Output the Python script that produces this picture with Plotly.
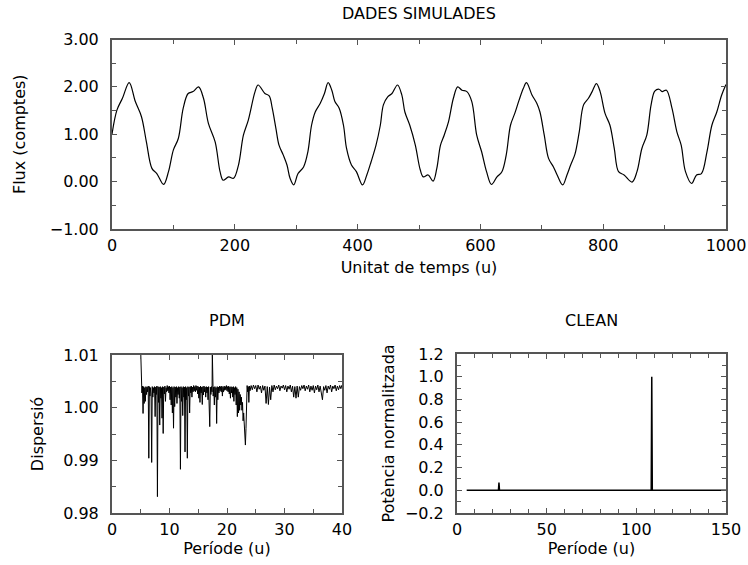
import plotly.graph_objects as go

# ---------------- data ----------------
# Simulated light curve
time_u = [0, 8, 17, 28, 38, 48, 56, 65, 73, 84, 92, 100, 108, 116, 124, 132, 141, 149, 157, 168,
          176, 181, 190, 198, 206, 214, 222, 233, 238, 249, 256, 261, 267, 272, 279, 285, 290, 296,
          303, 312, 319, 325, 331, 339, 346, 352, 358, 363, 370, 377, 382, 390, 398, 408, 415, 422,
          430, 437, 442, 449, 456, 465, 472, 477, 485, 494, 502, 507, 515, 523, 529, 535, 541, 548,
          556, 563, 570, 578, 586, 594, 602, 610, 618, 627, 635, 642, 649, 656, 663, 670, 675, 684,
          692, 697, 704, 711, 719, 725, 734, 741, 747, 754, 761, 768, 776, 782, 789, 795, 803, 811,
          818, 825, 834, 847, 855, 863, 871, 878, 884, 891, 896, 903, 912, 920, 927, 934, 944, 952,
          960, 969, 977, 985, 993, 1000]
flux = [1.00, 1.51, 1.76, 2.09, 1.69, 1.37, 0.84, 0.28, 0.17, -0.06, 0.21, 0.67, 0.91, 1.55, 1.86,
        1.90, 2.00, 1.76, 1.23, 0.84, 0.21, 0.03, 0.10, 0.07, 0.35, 0.98, 1.30, 1.90, 2.04, 1.86,
        1.81, 1.55, 1.12, 0.77, 0.56, 0.35, 0.07, -0.07, 0.17, 0.31, 0.63, 1.19, 1.47, 1.65, 1.86,
        2.09, 1.93, 1.69, 1.55, 1.19, 0.70, 0.35, 0.21, -0.07, 0.14, 0.42, 0.77, 1.19, 1.62, 1.79,
        1.86, 2.04, 1.83, 1.47, 1.19, 0.77, 0.25, 0.10, 0.14, 0.01, 0.28, 0.77, 0.98, 1.26, 1.76,
        2.00, 1.93, 1.90, 1.69, 0.98, 0.63, 0.21, -0.06, 0.10, 0.21, 0.56, 1.19, 1.44, 1.72, 1.97,
        2.09, 1.83, 1.65, 1.47, 0.98, 0.49, 0.31, 0.14, -0.07, 0.14, 0.35, 0.58, 1.05, 1.62, 1.76,
        1.90, 2.07, 1.90, 1.44, 1.19, 0.70, 0.21, 0.14, -0.01, 0.21, 0.70, 0.98, 1.62, 1.91, 1.95,
        1.90, 1.93, 1.55, 1.05, 0.77, 0.21, -0.04, 0.14, 0.17, 0.63, 1.19, 1.47, 1.83, 2.05]

# PDM periodogram
pdm_period = [
    5.0, 5.1, 5.2, 5.3, 5.4, 5.5, 5.6, 5.7, 5.8, 5.9, 6.0, 6.1, 6.2, 6.3, 6.4, 6.5, 6.6, 6.7, 6.8, 6.9,
    7.0, 7.1, 7.2, 7.3, 7.4, 7.5, 7.6, 7.7, 7.8, 7.9, 8.0, 8.1, 8.2, 8.3, 8.4, 8.5, 8.6, 8.7, 8.8, 8.9,
    9.0, 9.1, 9.2, 9.3, 9.4, 9.5, 9.6, 9.7, 9.8, 9.9, 10.0, 10.1, 10.2, 10.3, 10.4, 10.5, 10.6, 10.7,
    10.8, 10.9, 11.0, 11.1, 11.2, 11.3, 11.4, 11.5, 11.6, 11.7, 11.8, 11.9, 12.0, 12.1, 12.2, 12.3,
    12.4, 12.5, 12.6, 12.7, 12.8, 12.9, 13.0, 13.1, 13.2, 13.3, 13.4, 13.5, 13.6, 13.7, 13.8, 13.9,
    14.0, 14.1, 14.2, 14.3, 14.4, 14.5, 14.6, 14.7, 14.8, 14.9, 15.0, 15.1, 15.2, 15.3, 15.4, 15.5,
    15.6, 15.7, 15.8, 15.9, 16.0, 16.1, 16.2, 16.3, 16.4, 16.5, 16.6, 16.7, 16.8, 16.9, 17.0, 17.1,
    17.2, 17.3, 17.4, 17.45, 17.5, 17.6, 17.7, 17.8, 17.9, 18.0, 18.1, 18.2, 18.3, 18.4, 18.5, 18.6,
    18.7, 18.8, 18.9, 19.0, 19.1, 19.2, 19.3, 19.4, 19.5, 19.6, 19.7, 19.8, 19.9, 20.0, 20.1, 20.2,
    20.3, 20.4, 20.5, 20.6, 20.7, 20.8, 20.9, 21.0, 21.1, 21.2, 21.3, 21.4, 21.5, 21.6, 21.7, 21.8,
    21.9, 22.0, 22.1, 22.2, 22.3, 22.4, 22.5, 22.6, 22.7, 22.8, 22.9, 23.0, 23.1, 23.2, 23.3, 23.4,
    23.5, 23.6, 23.7, 23.8, 23.9, 24.0,
    24.2, 24.4, 24.6, 24.8, 25.0, 25.2, 25.4, 25.6, 25.8, 26.0, 26.2, 26.4, 26.6, 26.8, 27.0, 27.2,
    27.4, 27.6, 27.8, 28.0, 28.2, 28.4, 28.6, 28.8, 29.0, 29.2, 29.4, 29.6, 29.8, 30.0, 30.2, 30.4,
    30.6, 30.8, 31.0, 31.2, 31.4, 31.6, 31.8, 32.0, 32.2, 32.4, 32.6, 32.8, 33.0, 33.2, 33.4, 33.6,
    33.8, 34.0, 34.2, 34.4, 34.6, 34.8, 35.0, 35.2, 35.4, 35.6, 35.8, 36.0, 36.2, 36.4, 36.6, 36.8,
    37.0, 37.2, 37.4, 37.6, 37.8, 38.0, 38.2, 38.4, 38.6, 38.8, 39.0, 39.2, 39.4, 39.6, 39.8, 40.0]
pdm_disp = [
    1.0105, 1.0040, 1.0028, 1.0041, 0.9989, 1.0040, 1.0008, 1.0038, 1.0012, 1.0040,
    1.0025, 1.0039, 1.0030, 1.0041, 0.9904, 1.0040, 1.0022, 1.0038, 1.0026, 0.9896,
    1.0040, 1.0020, 1.0038, 1.0028, 1.0040, 0.9983, 1.0039, 1.0025, 1.0041, 0.9831,
    1.0040, 1.0010, 1.0039, 0.9967, 1.0040, 1.0018, 1.0038, 0.9980, 1.0040, 0.9951,
    1.0039, 1.0026, 1.0041, 1.0012, 1.0038, 1.0030, 1.0042, 1.0032, 1.0040, 1.0028,
    1.0041, 1.0015, 1.0039, 1.0005, 1.0040, 0.9990, 1.0038, 0.9961, 1.0040, 1.0002,
    1.0039, 1.0020, 1.0040, 1.0008, 1.0038, 1.0025, 1.0040, 1.0018, 1.0039, 0.9883,
    1.0040, 1.0012, 1.0038, 0.9985, 1.0040, 1.0020, 1.0039, 0.9916, 1.0040, 1.0015,
    1.0038, 0.9904, 1.0040, 1.0022, 1.0039, 0.9990, 1.0040, 1.0028, 1.0041, 1.0020,
    1.0039, 1.0030, 1.0042, 1.0032, 1.0040, 1.0030, 1.0042, 1.0033, 1.0041, 1.0026,
    1.0040, 1.0018, 1.0039, 1.0010, 1.0041, 1.0028, 1.0039, 1.0006, 1.0040, 1.0024,
    1.0041, 1.0030, 1.0039, 1.0020, 1.0040, 1.0028, 1.0039, 1.0015, 1.0040, 0.9988,
    0.9964, 1.0039, 1.0025, 1.0040, 1.0030, 1.0105, 1.0040, 1.0022, 1.0039, 1.0005,
    1.0040, 1.0020, 1.0038, 0.9970, 1.0040, 1.0015, 1.0039, 1.0028, 1.0041, 1.0032,
    1.0040, 1.0030, 1.0041, 1.0022, 1.0039, 1.0030, 1.0041, 1.0033, 1.0040, 1.0034,
    1.0042, 1.0032, 1.0040, 1.0030, 1.0041, 1.0026, 1.0039, 1.0018, 1.0040, 1.0028,
    1.0039, 1.0020, 1.0040, 1.0012, 1.0038, 1.0025, 1.0040, 1.0005, 1.0038, 0.9983,
    1.0035, 0.9990, 1.0030, 0.9995, 1.0025, 1.0005, 1.0020, 0.9995, 1.0010, 0.9975,
    0.9990, 0.9958, 0.9945, 0.9929, 0.9960, 1.0000, 1.0042, 1.0030, 1.0040, 1.0010,
    1.0041, 1.0032,
    1.0042, 1.0034, 1.0043, 1.0036, 1.0042, 1.0030, 1.0043, 1.0035, 1.0041, 1.0028,
    1.0042, 1.0033, 1.0041, 1.0008, 1.0040, 1.0006, 1.0039, 1.0015, 1.0042, 1.0030,
    1.0043, 1.0034, 1.0041, 1.0036, 1.0043, 1.0032, 1.0041, 1.0037, 1.0043, 1.0034,
    1.0042, 1.0030, 1.0041, 1.0035, 1.0043, 1.0030, 1.0041, 1.0020, 1.0040, 1.0018,
    1.0041, 1.0020, 1.0040, 1.0033, 1.0042, 1.0036, 1.0043, 1.0032, 1.0041, 1.0035,
    1.0043, 1.0030, 1.0041, 1.0033, 1.0042, 1.0028, 1.0041, 1.0034, 1.0043, 1.0030,
    1.0041, 1.0022, 1.0015, 1.0040, 1.0033, 1.0042, 1.0028, 1.0041, 1.0035, 1.0043,
    1.0030, 1.0041, 1.0036, 1.0043, 1.0032, 1.0041, 1.0034, 1.0042, 1.0036, 1.0043]

# CLEAN periodogram
clean_period = [5.4, 23.1, 23.4, 23.7, 108.3, 108.6, 108.9, 150]
clean_power = [0.0, 0.0, 0.068, 0.0, 0.0, 1.0, 0.0, 0.0]

# ---------------- figure ----------------
FONT = "DejaVu Sans, Liberation Sans, Arial, sans-serif"
FS = 16
AX_COLOR = "#555555"

fig = go.Figure()
fig.add_trace(go.Scatter(x=time_u, y=flux, mode="lines",
                         line=dict(color="black", width=1.2, shape="spline", smoothing=1.0),
                         xaxis="x", yaxis="y", showlegend=False, hoverinfo="skip"))
fig.add_trace(go.Scatter(x=pdm_period, y=pdm_disp, mode="lines", line=dict(color="black", width=1),
                         xaxis="x2", yaxis="y2", showlegend=False, hoverinfo="skip"))
fig.add_trace(go.Scatter(x=clean_period, y=clean_power, mode="lines", line=dict(color="black", width=1.5),
                         xaxis="x3", yaxis="y3", showlegend=False, hoverinfo="skip"))


def axis(domain, anchor, rng, dtick, minor_dtick, fmt=None, title=None, standoff=None, tls=6):
    d = dict(domain=domain, anchor=anchor, range=rng, dtick=dtick, tick0=0, automargin=False,
             showline=True, linecolor=AX_COLOR, linewidth=2, mirror="allticks",
             ticks="inside", ticklen=5, tickwidth=1, tickcolor=AX_COLOR,
             minor=dict(dtick=minor_dtick, tick0=0, ticks="inside", ticklen=4, tickwidth=1, tickcolor=AX_COLOR),
             showgrid=False, zeroline=False, tickfont=dict(size=FS, color="black", family=FONT),
             ticklabelstandoff=tls, fixedrange=True)
    if fmt:
        d["tickformat"] = fmt
    if title:
        d["title"] = dict(text=title, font=dict(size=FS, color="black", family=FONT))
        if standoff is not None:
            d["title"]["standoff"] = standoff
    return d


W, H = 748, 565
fig.update_layout(
    width=W, height=H, autosize=False,
    margin=dict(l=0, r=0, t=0, b=0, autoexpand=False),
    paper_bgcolor="white", plot_bgcolor="white",
    font=dict(family=FONT, color="black", size=FS),
    xaxis=axis([112 / W, 726 / W], "y", [0, 1000], 200, 100, title="Unitat de temps (u)", standoff=8, tls=1),
    yaxis=axis([1 - 229 / H, 1 - 39.5 / H], "x", [-1, 3], 1, 0.5, fmt=".2f", title="Flux (comptes)", standoff=20, tls=8),
    xaxis2=axis([112 / W, 342 / W], "y2", [0, 40], 10, 5, title="Període (u)", standoff=3, tls=1),
    yaxis2=axis([1 - 513 / H, 1 - 355 / H], "x2", [0.98, 1.01], 0.01, 0.005, fmt=".2f", title="Dispersió", standoff=16, tls=8),
    xaxis3=axis([457 / W, 726 / W], "y3", [0, 150], 50, 10, title="Període (u)", standoff=3, tls=1),
    yaxis3=axis([1 - 513 / H, 1 - 354 / H], "x3", [-0.2, 1.2], 0.2, 0.1, fmt=".1f", title="Potència normalitzada", standoff=6, tls=8),
    annotations=[
        dict(text="DADES SIMULADES", x=419 / W, y=1 - 14 / H, xref="paper", yref="paper", showarrow=False,
             font=dict(size=FS, color="black", family=FONT), xanchor="center", yanchor="middle"),
        dict(text="PDM", x=227 / W, y=1 - 320 / H, xref="paper", yref="paper", showarrow=False,
             font=dict(size=FS, color="black", family=FONT), xanchor="center", yanchor="middle"),
        dict(text="CLEAN", x=591 / W, y=1 - 320 / H, xref="paper", yref="paper", showarrow=False,
             font=dict(size=FS, color="black", family=FONT), xanchor="center", yanchor="middle"),
    ],
)

fig.write_html("out.html")
